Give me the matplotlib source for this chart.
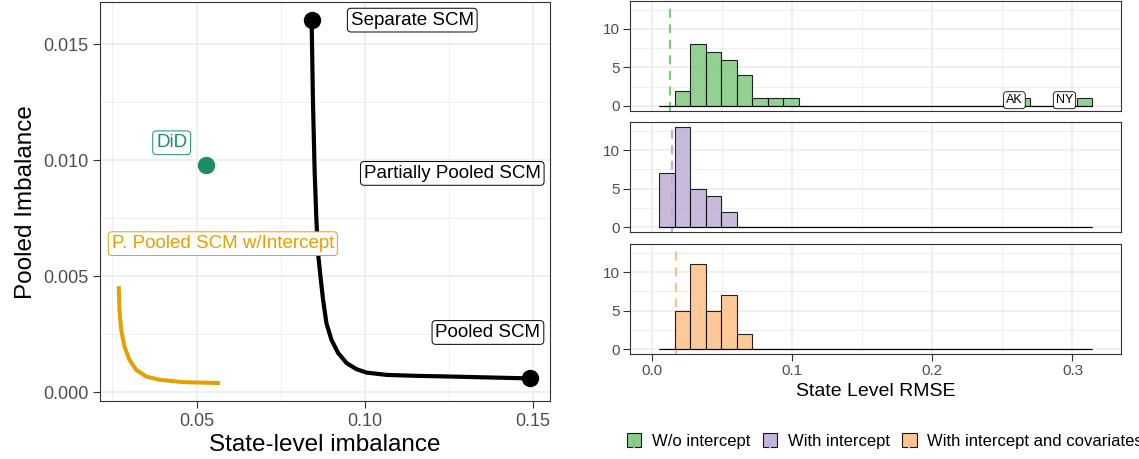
import numpy as np
import matplotlib
matplotlib.use('Agg')
import matplotlib.pyplot as plt
from matplotlib.patches import Patch, Rectangle
from matplotlib.lines import Line2D
from matplotlib.legend_handler import HandlerBase

plt.rcParams['font.family'] = ['Liberation Sans', 'DejaVu Sans']

### Data: left panel (balance frontier)
sep_scm = (0.0842, 0.01605)
pooled_scm = (0.1490, 0.0006)
did = (0.0527, 0.0098)

ppool_x = [0.0842, 0.0846, 0.0851, 0.0856, 0.0861, 0.0868, 0.0876, 0.0886, 0.0901,
           0.0921, 0.0946, 0.0975, 0.1005, 0.1065, 0.1154, 0.1253, 0.1370, 0.1490]
ppool_y = [0.01605, 0.0125, 0.0095, 0.0075, 0.0060, 0.00503, 0.00399, 0.00298, 0.00226,
           0.00169, 0.00126, 0.00100, 0.00085, 0.00075, 0.00071, 0.00068, 0.00064, 0.0006]

icpt_x = [0.02688, 0.02708, 0.02759, 0.02857, 0.03006, 0.03205, 0.03503, 0.03899, 0.04592, 0.05634]
icpt_y = [0.00449, 0.00356, 0.00269, 0.00197, 0.00140, 0.00097, 0.00068, 0.00054, 0.00044, 0.00040]

### Data: right panel (histograms of state RMSE, 28 bins)
bin_lo, bin_hi, n_bins = 0.0055, 0.314, 28
counts_noint = [0, 2, 8, 7, 6, 4, 1, 1, 1, 0, 0, 0, 0, 0,
                0, 0, 0, 0, 0, 0, 0, 0, 0, 1, 0, 0, 0, 1]
counts_int = [7, 13, 5, 4, 2, 0, 0, 0, 0, 0, 0, 0, 0, 0,
              0, 0, 0, 0, 0, 0, 0, 0, 0, 0, 0, 0, 0, 0]
counts_cov = [0, 5, 11, 5, 7, 2, 0, 0, 0, 0, 0, 0, 0, 0,
              0, 0, 0, 0, 0, 0, 0, 0, 0, 0, 0, 0, 0, 0]
pooled_rmse = [0.0128, 0.0147, 0.0173]
series_names = ['W/o intercept', 'With intercept', 'With intercept and covariates']
outlier_states = ['AK', 'NY']
outlier_x = [0.2586, 0.2943]

hist_cols = ['#7FC97F', '#BEAED4', '#FDC086']
grid_col = '#EBEBEB'
tick_col = '#4D4D4D'
frame_col = '#333333'
green = '#1B8F63'
orange = '#E69F00'


def style_axes(ax, tick_size, pad):
    ax.set_axisbelow(True)
    ax.grid(which='major', color=grid_col, lw=1.1)
    ax.grid(which='minor', color=grid_col, lw=0.55)
    for s in ax.spines.values():
        s.set_color(frame_col)
        s.set_linewidth(0.8)
    ax.tick_params(which='major', length=5, width=0.8, color=frame_col,
                   labelcolor=tick_col, labelsize=tick_size, pad=pad)
    ax.tick_params(which='minor', length=0)


fig = plt.figure(figsize=(11.39, 4.59), dpi=100)

### Left panel
ax = fig.add_axes([100 / 1139, 1 - 401 / 459, 449.5 / 1139, 398.8 / 459])
style_axes(ax, 13, 3.5)
ax.plot(ppool_x, ppool_y, color='black', lw=3.0, solid_joinstyle='round', zorder=3)
ax.plot(icpt_x, icpt_y, color=orange, lw=2.9, solid_joinstyle='round', zorder=3)
ax.plot([sep_scm[0], pooled_scm[0]], [sep_scm[1], pooled_scm[1]], 'o', color='black', ms=11.5, zorder=4)
ax.plot([did[0]], [did[1]], 'o', color=green, ms=11.5, zorder=4)

lab_kw = dict(fontsize=13.5, ha='center', va='center', zorder=5)
box = dict(boxstyle='round,pad=0.18,rounding_size=0.2', fc='white', lw=0.7)
ax.text(0.1141, 0.01605, 'Separate SCM', bbox=dict(box, ec='black'), **lab_kw)
ax.text(0.1260, 0.00944, 'Partially Pooled SCM', bbox=dict(box, ec='black'), **lab_kw)
ax.text(0.1366, 0.00258, 'Pooled SCM', bbox=dict(box, ec='black'), **lab_kw)
ax.text(0.0426, 0.01076, 'DiD', color=green, bbox=dict(box, ec=green), **lab_kw)
ax.text(0.0578, 0.00641, 'P. Pooled SCM w/Intercept', color=orange, bbox=dict(box, ec=orange), **lab_kw)

ax.set_xlim(0.0213, 0.1549)
ax.set_ylim(-0.000375, 0.016823)
ax.set_xticks([0.05, 0.10, 0.15])
ax.set_xticklabels(['0.05', '0.10', '0.15'])
ax.set_xticks([0.025, 0.075, 0.125], minor=True)
ax.set_yticks([0, 0.005, 0.010, 0.015])
ax.set_yticklabels(['0.000', '0.005', '0.010', '0.015'])
ax.set_yticks([0.0025, 0.0075, 0.0125], minor=True)
ax.set_xlabel('State-level imbalance', fontsize=17.5, labelpad=3)
ax.set_ylabel('Pooled Imbalance', fontsize=17.5, labelpad=4)

### Right panel: three stacked histograms
edges = np.linspace(bin_lo, bin_hi, n_bins + 1)
width = edges[1] - edges[0]
all_counts = [counts_noint, counts_int, counts_cov]
bottoms = [1 - 111 / 459, 1 - 232.3 / 459, 1 - 354.2 / 459]
hax = []
for i in range(3):
    a = fig.add_axes([630 / 1139, bottoms[i], 491.3 / 1139, 110.3 / 459])
    style_axes(a, 11, 2)
    a.axvline(pooled_rmse[i], color=hist_cols[i], lw=1.6, ls=(0, (4, 3)), zorder=1)
    a.bar(edges[:-1], all_counts[i], width=width, align='edge', color=hist_cols[i],
          alpha=0.85, edgecolor='black', linewidth=0.8, zorder=2)
    a.hlines(0, bin_lo, bin_hi, color='black', lw=0.8, zorder=2)
    a.set_xlim(-0.0155, 0.3348)
    a.set_ylim(-0.65, 13.65)
    a.set_xticks([0, 0.1, 0.2, 0.3])
    a.set_xticks([0.05, 0.15, 0.25], minor=True)
    a.set_yticks([0, 5, 10])
    a.set_yticks([2.5, 7.5, 12.5], minor=True)
    if i < 2:
        a.tick_params(axis='x', which='both', length=0, labelbottom=False)
    hax.append(a)

for st, sx in zip(outlier_states, outlier_x):
    hax[0].text(sx, 0.75, st, fontsize=9, ha='center', va='center', zorder=5,
                bbox=dict(boxstyle='round,pad=0.2,rounding_size=0.25', fc='white', ec='black', lw=0.6))

hax[2].set_xticklabels(['0.0', '0.1', '0.2', '0.3'])
hax[2].set_xlabel('State Level RMSE', fontsize=14, labelpad=4)


class KeyWithLine(HandlerBase):
    def __init__(self, col):
        super().__init__()
        self.col = col

    def create_artists(self, legend, orig_handle, xdescent, ydescent, width, height, fontsize, trans):
        r = Rectangle((-xdescent, -ydescent), width, height, facecolor=self.col,
                      edgecolor='black', lw=0.8, alpha=0.9, transform=trans)
        l = Line2D([-xdescent + width / 2] * 2, [-ydescent, -ydescent + height * 0.4],
                   color=self.col, lw=1.5, transform=trans)
        return [r, l]


handles = [Patch(facecolor=c, label=n) for c, n in zip(hist_cols, series_names)]
fig.legend(handles=handles, loc='center left', bbox_to_anchor=(627 / 1139, 1 - 441 / 459),
           ncol=3, frameon=False, fontsize=12, handlelength=0.85, handleheight=0.85,
           handletextpad=0.65, columnspacing=0.75, borderpad=0, borderaxespad=0,
           handler_map={h: KeyWithLine(c) for h, c in zip(handles, hist_cols)})

fig.savefig('out.png', dpi=100)
